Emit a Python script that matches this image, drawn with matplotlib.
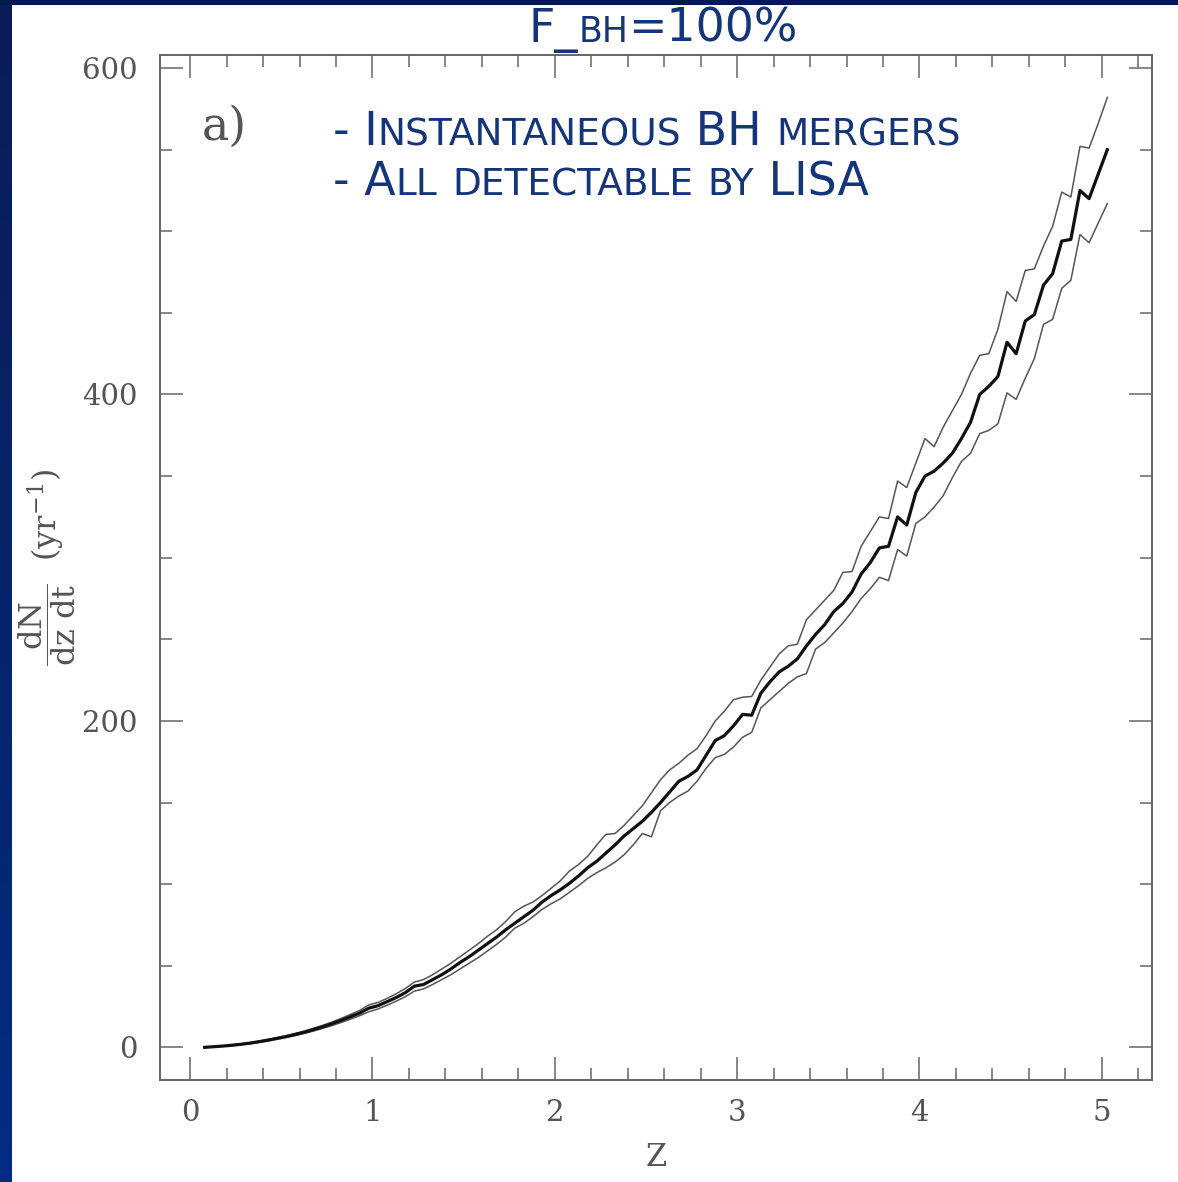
import numpy as np
import matplotlib
matplotlib.use("Agg")
import matplotlib.pyplot as plt
from matplotlib.ticker import MultipleLocator

plt.rcParams["mathtext.fontset"] = "dejavuserif"

W, H = 1178, 1182

# redshift grid of the simulated curves
z = np.round(np.arange(0.08, 5.031, 0.05), 2)

# mean merger rate dN/dz/dt (yr^-1)
rate_mean = [0.0, 0.4, 0.8, 1.3, 1.9, 2.6, 3.5, 4.5, 5.6, 6.7,
             8.0, 9.4, 11.0, 12.7, 14.6, 16.6, 18.8, 21.0, 24.0, 25.5,
             28.0, 30.5, 33.5, 37.5, 38.5, 41.5, 44.5, 48.0, 52.0, 55.5,
             59.5, 63.5, 67.5, 72.0, 76.0, 80.0, 84.0, 89.0, 93.0, 96.5,
             100.5, 105.0, 110.0, 114.0, 119.0, 124.0, 129.5, 134.0, 138.5, 144.0,
             150.0, 156.5, 163.0, 166.0, 170.0, 179.0, 188.0, 191.0, 197.0, 204.0,
             203.5, 217.0, 224.0, 230.0, 233.5, 238.0, 246.0, 253.0, 259.0, 267.0,
             272.0, 279.0, 290.0, 297.0, 306.0, 307.0, 325.0, 320.0, 340.0, 350.0,
             353.0, 358.0, 364.0, 373.0, 383.0, 400.0, 405.0, 411.0, 432.0, 425.0,
             445.0, 449.0, 467.0, 474.0, 494.0, 495.0, 525.0, 520.0, 535.0, 550.0]

# upper envelope
rate_high = [0.2, 0.5, 0.9, 1.5, 2.1, 2.9, 3.8, 4.9, 6.0, 7.2,
             8.6, 10.1, 11.8, 13.6, 15.6, 17.8, 20.2, 22.6, 26.0, 27.5,
             30.0, 32.8, 36.0, 40.0, 41.5, 44.5, 48.0, 51.5, 55.5, 59.5,
             63.5, 68.0, 72.0, 77.0, 83.0, 86.5, 89.0, 93.0, 97.5, 102.0,
             108.0, 112.0, 117.0, 124.0, 130.5, 131.0, 136.0, 142.0, 148.0, 156.0,
             164.0, 170.0, 174.0, 179.0, 183.0, 191.0, 200.0, 206.0, 213.0, 214.5,
             215.0, 225.0, 233.0, 241.0, 246.0, 247.0, 262.0, 268.0, 274.0, 280.0,
             291.0, 291.5, 307.0, 316.0, 325.0, 324.0, 347.0, 343.0, 358.0, 373.0,
             368.0, 380.0, 390.0, 400.0, 413.0, 424.0, 425.0, 440.0, 463.0, 457.0,
             476.0, 477.0, 491.0, 503.0, 524.0, 521.0, 552.0, 551.0, 566.0, 582.0]

# lower envelope
rate_low = [0.0, 0.3, 0.7, 1.1, 1.7, 2.3, 3.1, 4.0, 5.0, 6.1,
            7.3, 8.6, 10.1, 11.7, 13.4, 15.3, 17.3, 19.4, 21.8, 23.5,
            25.8, 28.3, 31.0, 34.5, 35.8, 38.5, 41.5, 44.5, 48.0, 51.5,
            55.0, 59.0, 63.0, 67.5, 73.0, 76.0, 80.0, 84.5, 88.0, 91.0,
            95.0, 99.0, 103.5, 107.0, 110.0, 113.5, 118.0, 124.0, 131.0, 129.0,
            145.0, 150.0, 154.0, 157.0, 163.0, 171.0, 177.5, 179.5, 184.0, 190.0,
            193.0, 208.0, 213.0, 218.0, 223.0, 227.0, 229.0, 244.0, 248.0, 254.0,
            260.0, 267.0, 275.0, 281.0, 288.0, 286.0, 305.0, 301.0, 321.0, 325.0,
            331.0, 338.0, 349.0, 359.0, 364.0, 376.0, 378.0, 382.0, 401.0, 397.0,
            410.0, 422.0, 443.0, 446.0, 465.0, 470.0, 498.0, 493.0, 505.0, 517.0]

x_ticks = [0, 1, 2, 3, 4, 5]
y_ticks = [0, 200, 400, 600]

title_str = "F_bh=100%"
notes = ["- Instantaneous BH mergers", "- All detectable by LISA"]

navy = "#14357a"
grey = "#666666"

fig = plt.figure(figsize=(W / 100, H / 100), dpi=100)
fig.patch.set_facecolor("white")

# slide border (left gradient strip + top strip)
band = fig.add_axes([0, 0, 12 / W, 1])
band.imshow(np.linspace(0, 1, 64)[:, None], aspect="auto", origin="upper",
            cmap=matplotlib.colors.LinearSegmentedColormap.from_list("b", ["#0a1c55", "#032c80"]))
band.axis("off")
top = fig.add_axes([0, 1 - 5 / H, 1, 5 / H])
top.set_facecolor("#001a4f")
top.set_xticks([]); top.set_yticks([])
for s in top.spines.values():
    s.set_visible(False)

ax = fig.add_axes([160 / W, 1 - 1080 / H, (1152 - 160) / W, (1080 - 55) / H])
ax.plot(z, rate_high, color="#555555", lw=1.1)
ax.plot(z, rate_low, color="#555555", lw=1.1)
ax.plot(z, rate_mean, color="#111111", lw=2.3)

ax.set_xlim(-0.165, 5.275)
ax.set_ylim(-20, 608)
ax.set_xticks(x_ticks)
ax.set_yticks(y_ticks)
ax.xaxis.set_minor_locator(MultipleLocator(0.2))
ax.yaxis.set_minor_locator(MultipleLocator(50))
ax.tick_params(which="both", direction="in", top=True, right=True,
               color=grey, width=1.1, labelcolor="#555555", labelsize=21)
ax.tick_params(which="major", length=16.5)
ax.tick_params(which="minor", length=8.5)
ax.tick_params(axis="y", pad=16)
ax.tick_params(axis="x", pad=14)
for lab in ax.get_xticklabels() + ax.get_yticklabels():
    lab.set_family("DejaVu Serif")
for s in ax.spines.values():
    s.set_color(grey)
    s.set_linewidth(1.4)

ax.set_ylabel(r"$\dfrac{\mathrm{dN}}{\mathrm{dz\ dt}}$  $(\mathrm{yr}^{-1})$",
              fontsize=23, color="#555555")
ax.yaxis.set_label_coords(-0.083, 0.5)
ax.set_xlabel("Z", fontsize=22, color="#555555", family="DejaVu Serif")
ax.xaxis.set_label_coords(0.5, -0.06)

ax.text(0.042, 0.93, "a)", transform=ax.transAxes, fontsize=33, color="#555555",
        family="DejaVu Serif", va="center", ha="left")


def small_caps(x0, y0, s, big, small, center=False):
    # draw text in small caps: lower-case letters as smaller capitals
    r = fig.canvas.get_renderer()
    pieces = []
    for ch in s:
        low = ch.islower()
        if pieces and pieces[-1][1] == low:
            pieces[-1][0] += ch
        else:
            pieces.append([ch, low])
    texts = []
    x = x0
    for run, low in pieces:
        t = fig.text(x / W, y0 / H, run.upper(), fontsize=small if low else big,
                     color=navy, va="baseline", ha="left", family="DejaVu Sans")
        texts.append(t)
        x += t.get_window_extent(r).width
    if center:
        shift = (x - x0) / 2
        for t in texts:
            px, py = t.get_position()
            t.set_position((px - shift / W, py))


small_caps(663, H - 42, title_str, 33, 25, center=True)
small_caps(333, H - 145, notes[0], 33, 27)
small_caps(333, H - 195, notes[1], 33, 27)

fig.savefig("out.png", dpi=100, facecolor=fig.get_facecolor())
